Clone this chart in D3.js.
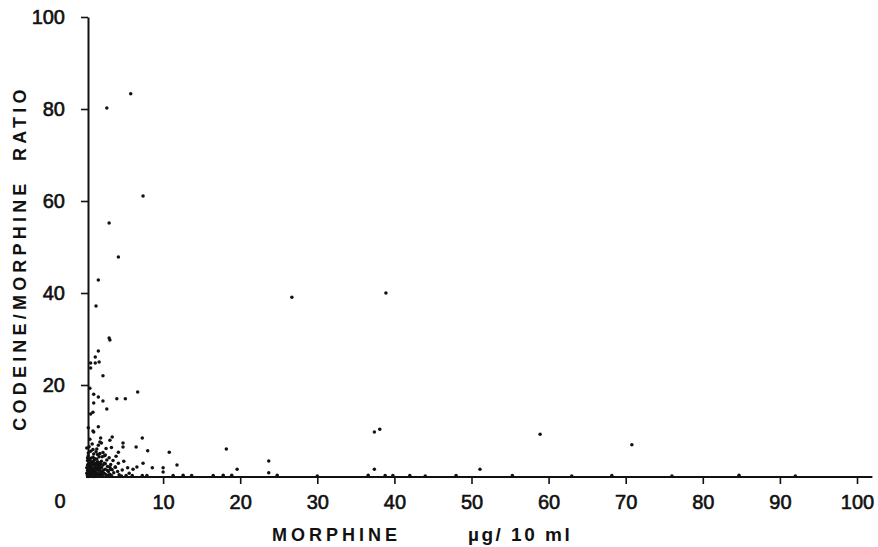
<!DOCTYPE html>
<html>
<head>
<meta charset="utf-8">
<script src="https://cdn.jsdelivr.net/npm/d3@7"></script>
<style>
  body { margin: 0; background: #fff; }
  svg text { font-family: "Liberation Sans", Arial, sans-serif; fill: #111; }
</style>
</head>
<body>
<svg id="chart"></svg>
<script>
var width = 878, height = 547;

// scattered samples (morphine ug/10ml, codeine/morphine ratio)
var morphineOut = [2.7, 5.8, 7.4, 3.0, 4.2, 1.6, 1.3, 3.0, 3.1, 26.7, 38.9, 37.4, 38.1, 58.9, 70.8,
  18.2, 23.7, 23.7, 19.6, 37.4, 51.1, 1.6, 1.2, 1.7, 0.6, 1.2, 0.6, 2.2, 0.5, 6.7,
  1.0, 1.6, 4.0, 5.1, 2.2, 1.0, 2.7, 0.9, 0.6, 0.3, 1.6, 1.0, 0.9, 7.3, 3.4,
  3.1, 4.8, 1.9, 1.8, 4.8, 6.5, 8.0, 10.8, 4.2, 2.5, 1.4, 11.8, 8.6, 10.0, 10.0,
  7.4, 6.6, 6.1, 5.4, 4.7, 4.2, 3.8];
var ratioOut = [80.2, 83.3, 61.1, 55.2, 47.8, 42.8, 37.2, 30.2, 29.8, 39.1, 40.0, 9.8, 10.4, 9.3, 7.0,
  6.1, 3.5, 0.9, 1.7, 1.7, 1.7, 27.4, 26.1, 25.0, 24.8, 24.8, 23.7, 22.0, 19.3, 18.5,
  18.0, 17.4, 17.0, 17.0, 16.5, 16.1, 14.8, 14.1, 13.7, 10.7, 10.9, 9.8, 10.0, 8.5, 8.7,
  8.0, 7.4, 8.5, 7.6, 6.5, 6.5, 5.7, 5.4, 5.4, 4.8, 6.1, 2.6, 2.0, 2.0, 1.1,
  3.0, 2.2, 1.7, 2.0, 1.5, 3.0, 2.2];

// samples lying along the axis (ratio close to 0)
var morphineLow = [6.0, 7.3, 7.9, 11.3, 12.6, 13.7, 16.5, 17.8, 18.9, 24.8, 30.0, 36.6, 38.8, 39.8,
  42.0, 44.0, 48.0, 55.3, 63.0, 68.2, 76.0, 84.7, 92.0];
var ratioLow = [0.3, 0.3, 0.3, 0.3, 0.4, 0.3, 0.3, 0.4, 0.4, 0.4, 0.2, 0.4, 0.3, 0.3,
  0.3, 0.2, 0.3, 0.3, 0.2, 0.3, 0.2, 0.4, 0.2];

// dense group near the origin
var morphineNear = [0.2, 0.4, 0.6, 0.8, 1.0, 1.2, 1.4, 1.6, 1.8, 2.0,
  0.3, 0.5, 0.7, 0.9, 1.1, 1.3, 1.5, 1.7, 1.9, 2.1,
  0.2, 0.4, 0.6, 0.8, 1.0, 1.2, 1.4, 1.6, 1.8, 2.0,
  0.3, 0.5, 0.7, 0.9, 1.1, 1.3, 1.5, 1.7, 1.9, 2.2,
  0.2, 0.4, 0.6, 0.8, 1.0, 1.2, 1.4, 1.6, 2.3, 2.4,
  0.3, 0.6, 1.0, 1.3, 1.8, 2.1, 2.5, 2.6, 2.7, 2.8,
  0.1, 0.4, 0.9, 2.9, 3.0, 3.1, 3.2, 3.4, 3.5, 3.6,
  0.1, 0.1, 0.2, 0.5, 0.7, 1.1, 1.5, 1.9, 2.2, 2.4,
  3.8, 3.9, 4.1, 4.3, 2.6, 3.3, 0.8, 1.6, 0.5, 2.0,
  0.3, 0.9, 1.5, 2.1, 2.7, 3.3, 4.6, 5.2, 5.6, 4.9,
  0.5, 0.7, 1.1, 1.3, 1.7, 1.9, 2.3, 2.5, 2.9, 3.1,
  0.4, 0.6, 0.8, 1.2, 1.4, 1.8, 2.0, 2.4, 2.8, 3.2,
  0.3, 0.5, 0.9, 1.1, 1.5, 1.7, 2.1, 0.2, 0.6, 1.0];
var ratioNear = [0.4, 1.1, 0.3, 1.8, 0.6, 2.4, 0.9, 1.5, 0.4, 2.1,
  2.8, 1.6, 3.3, 2.6, 1.2, 3.0, 2.0, 0.7, 2.9, 1.0,
  3.6, 2.2, 4.1, 0.9, 3.5, 1.4, 3.9, 2.7, 1.3, 3.4,
  4.6, 0.5, 2.0, 4.3, 2.9, 0.4, 3.3, 4.4, 1.9, 2.6,
  1.4, 3.0, 1.2, 3.1, 1.9, 0.2, 2.6, 0.3, 0.8, 3.0,
  5.2, 5.6, 5.0, 5.5, 5.1, 4.4, 1.7, 0.5, 3.7, 2.3,
  6.3, 6.6, 6.0, 1.2, 4.2, 0.6, 2.7, 1.6, 3.6, 0.9,
  0.8, 2.0, 2.6, 3.7, 0.6, 4.0, 4.9, 0.2, 5.3, 4.6,
  2.1, 4.5, 1.2, 0.5, 6.2, 6.4, 7.2, 6.9, 8.2, 7.4,
  0.1, 0.2, 0.2, 0.3, 0.2, 0.3, 0.2, 0.3, 0.8, 3.4,
  1.3, 2.5, 0.8, 1.9, 3.1, 1.1, 1.5, 2.9, 0.4, 2.1,
  0.7, 1.9, 1.4, 1.6, 0.6, 2.4, 0.9, 0.7, 1.4, 1.7,
  1.0, 2.3, 1.6, 3.8, 0.5, 2.4, 1.2, 4.2, 3.0, 0.1];

var xTicks = [10, 20, 30, 40, 50, 60, 70, 80, 90, 100];
var yTicks = [20, 40, 60, 80, 100];

var points = [];
[[morphineOut, ratioOut], [morphineLow, ratioLow], [morphineNear, ratioNear]].forEach(function(s) {
  s[0].forEach(function(m, i) { points.push({ m: m, r: s[1][i] }); });
});

var svg = d3.select("#chart").attr("width", width).attr("height", height);

var x = d3.scaleLinear().domain([0, 100]).range([86, 857]);
var y = d3.scaleLinear().domain([0, 100]).range([477, 17]);

// points
svg.append("g").selectAll("circle")
  .data(points)
  .enter().append("circle")
  .attr("cx", function(d) { return x(d.m); })
  .attr("cy", function(d) { return y(d.r); })
  .attr("r", 1.75)
  .attr("fill", "#111");

function heavy(sel) {
  sel.attr("fill", "#111").attr("stroke", "#111").attr("stroke-width", 0.6);
}

// x axis
var xAxis = d3.axisBottom(x).tickValues(xTicks).tickSize(7).tickSizeOuter(0).tickPadding(11);
var gx = svg.append("g").attr("transform", "translate(0," + y(0) + ")").call(xAxis);
gx.select(".domain").remove();
gx.append("line")
  .attr("x1", x(0)).attr("x2", x(102))
  .attr("stroke", "#111").attr("stroke-width", 2);
gx.selectAll(".tick line").attr("stroke", "#111").attr("stroke-width", 1.6);
gx.selectAll(".tick text").style("font-size", "20px").call(heavy);

// y axis
var yAxis = d3.axisLeft(y).tickValues(yTicks).tickSize(7).tickSizeOuter(0).tickPadding(16);
var gy = svg.append("g").attr("transform", "translate(" + (x(0) + 2) + ",0)").call(yAxis);
gy.select(".domain").attr("stroke", "#111").attr("stroke-width", 2);
gy.selectAll(".tick line").attr("stroke", "#111").attr("stroke-width", 1.6);
gy.selectAll(".tick text").style("font-size", "20px").call(heavy);

// shared origin label
svg.append("text")
  .attr("x", x(0) - 26).attr("y", y(0) + 31)
  .attr("text-anchor", "middle")
  .style("font-size", "20px")
  .call(heavy)
  .text("0");

// axis titles
svg.append("text")
  .attr("x", 272).attr("y", 541)
  .style("font-size", "18px").style("font-weight", "bold").style("letter-spacing", "4px")
  .text("MORPHINE");
svg.append("text")
  .attr("x", 468).attr("y", 541)
  .style("font-size", "19px").style("font-weight", "bold").style("letter-spacing", "2.5px")
  .style("white-space", "pre")
  .text("\u00b5g/ 10 ml");

svg.append("text")
  .attr("transform", "translate(26,258) rotate(-90)")
  .attr("text-anchor", "middle")
  .style("font-size", "18px").style("font-weight", "bold").style("letter-spacing", "4.2px")
  .style("white-space", "pre")
  .text("CODEINE/MORPHINE  RATIO");
</script>
</body>
</html>
